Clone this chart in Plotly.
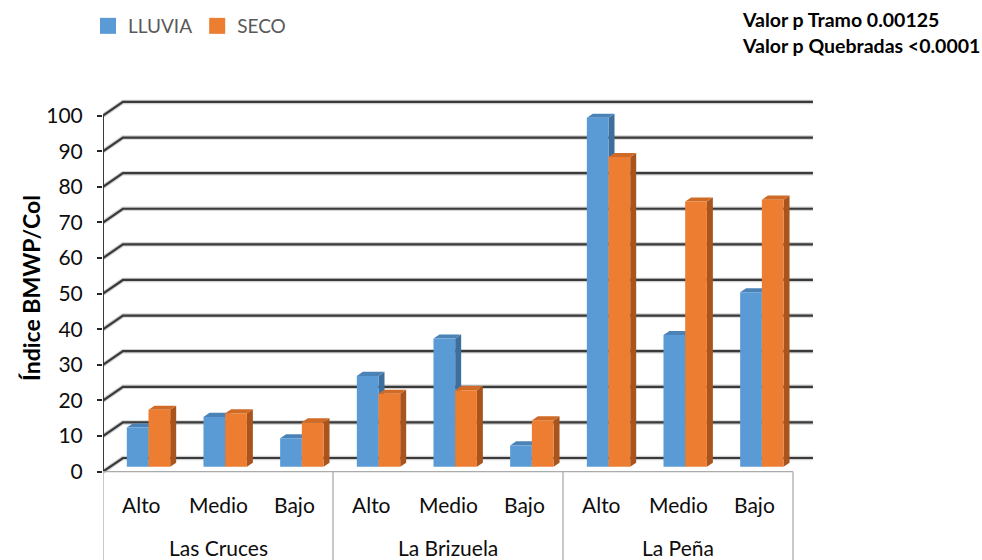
import plotly.graph_objects as go

# ---- data ----
sitios = ["Las Cruces", "La Brizuela", "La Peña"]
tramos = ["Alto", "Medio", "Bajo"]
lluvia = [11, 14, 8, 25.5, 36, 6, 98, 37, 49]
seco = [16, 15, 12.5, 20.5, 21.5, 13, 87, 74.5, 75]
y_ticks = list(range(0, 101, 10))

series_names = ["LLUVIA", "SECO"]
front_colors = ["#5B9BD5", "#ED7D31"]
side_colors = ["#3E6F9C", "#A9541D"]
top_colors = ["#4B83B9", "#CF6A27"]

FONT = "Lato, 'Open Sans', sans-serif"

# oblique projection of the depth axis, expressed in data units
DX, DY = 0.26, 3.85          # full depth of the floor / back wall
BAR_Z0, BAR_Z1 = 0.36, 0.66  # depth slab occupied by the columns
BAR_W = 0.283                # column width (one category slot = 1.0)

n_cat = len(sitios) * len(tramos)
x_max = 9.352
y_min, y_max = -24.8, 105.8


def polys_to_xy(polys):
    xs, ys = [], []
    for p in polys:
        for (a, b) in p + [p[0]]:
            xs.append(a)
            ys.append(b)
        xs.append(None)
        ys.append(None)
    return xs, ys


def column_faces(x_left, v):
    x0 = x_left + BAR_Z0 * DX
    y0 = BAR_Z0 * DY
    ddx = (BAR_Z1 - BAR_Z0) * DX
    ddy = (BAR_Z1 - BAR_Z0) * DY
    w = BAR_W
    front = [(x0, y0), (x0 + w, y0), (x0 + w, y0 + v), (x0, y0 + v)]
    side = [(x0 + w, y0), (x0 + w + ddx, y0 + ddy),
            (x0 + w + ddx, y0 + v + ddy), (x0 + w, y0 + v)]
    top = [(x0, y0 + v), (x0 + ddx, y0 + v + ddy),
           (x0 + w + ddx, y0 + v + ddy), (x0 + w, y0 + v)]
    return front, side, top


fig = go.Figure()

# back-wall gridlines with the short diagonal along the side wall
gx, gy = [], []
for t in y_ticks:
    gx += [0, DX, n_cat + DX, None]
    gy += [t, t + DY, t + DY, None]
fig.add_trace(go.Scatter(x=gx, y=gy, mode="lines",
                         line=dict(color="rgba(0,0,0,0.18)", width=4.5),
                         hoverinfo="skip", showlegend=False))
fig.add_trace(go.Scatter(x=gx, y=gy, mode="lines",
                         line=dict(color="#3a3a3a", width=2.2),
                         hoverinfo="skip", showlegend=False))

# front value axis line
fig.add_trace(go.Scatter(x=[0, 0], y=[0, y_ticks[-1]], mode="lines",
                         line=dict(color="#262626", width=1.8),
                         hoverinfo="skip", showlegend=False))

# category axis: floor edge and group separators
sx, sy = [0, n_cat, None], [0, 0, None]
for k in range(len(sitios) + 1):
    sx += [k * len(tramos), k * len(tramos), None]
    sy += [0, y_min, None]
fig.add_trace(go.Scatter(x=sx, y=sy, mode="lines",
                         line=dict(color="#ABABAB", width=1.3),
                         hoverinfo="skip", showlegend=False))

# columns: sides, tops, then fronts, series by series
for s, vals in enumerate([lluvia, seco]):
    fronts, sides, tops = [], [], []
    for i, v in enumerate(vals):
        x_left = i + 0.5 - BAR_W + s * BAR_W
        f, sd, tp = column_faces(x_left, v)
        fronts.append(f)
        sides.append(sd)
        tops.append(tp)
    for polys, col in [(sides, side_colors[s]), (tops, top_colors[s]),
                       (fronts, front_colors[s])]:
        px_, py_ = polys_to_xy(polys)
        fig.add_trace(go.Scatter(x=px_, y=py_, mode="lines", fill="toself",
                                 fillcolor=col, line=dict(width=0, color=col),
                                 hoverinfo="skip", showlegend=False))
    # legend entry
    fig.add_trace(go.Scatter(x=[None], y=[None], mode="markers",
                             marker=dict(symbol="square", size=16,
                                         color=front_colors[s]),
                             name=series_names[s], showlegend=True))

annotations = []
# level labels and site labels
for g, sitio in enumerate(sitios):
    for j, tramo in enumerate(tramos):
        annotations.append(dict(x=g * 3 + j + 0.5, y=-9.1, xref="x", yref="y",
                                text=tramo, showarrow=False,
                                font=dict(family=FONT, size=21, color="#0d0d0d")))
    annotations.append(dict(x=g * 3 + 1.5, y=-21.4, xref="x", yref="y",
                            text=sitio, showarrow=False,
                            font=dict(family=FONT, size=21, color="#0d0d0d")))

# value axis title
annotations.append(dict(x=-0.1004, y=51.6, xref="paper", yref="y",
                        xanchor="center", yanchor="middle",
                        text="<b>Índice BMWP/Col</b>", textangle=-90,
                        showarrow=False,
                        font=dict(family=FONT, size=23, color="#000000")))

# p-values
annotations.append(dict(x=(740 - 103) / 717, y=(560 - 20) / 465,
                        xref="paper", yref="paper", xanchor="left",
                        yanchor="middle", showarrow=False,
                        text="<b>Valor p Tramo 0.00125</b>",
                        font=dict(family=FONT, size=19.5, color="#000000")))
annotations.append(dict(x=(740 - 103) / 717, y=(560 - 45) / 465,
                        xref="paper", yref="paper", xanchor="left",
                        yanchor="middle", showarrow=False,
                        text="<b>Valor p Quebradas <0.0001</b>",
                        font=dict(family=FONT, size=19.5, color="#000000")))

fig.update_layout(
    width=982, height=560,
    margin=dict(l=103, r=162, t=95, b=0),
    paper_bgcolor="white", plot_bgcolor="white",
    showlegend=True,
    legend=dict(orientation="h", xref="container", yref="container",
                x=88 / 982, y=1 - 26 / 560, xanchor="left", yanchor="middle",
                font=dict(family=FONT, size=19, color="#595959"),
                bgcolor="rgba(0,0,0,0)"),
    annotations=annotations,
)
fig.update_xaxes(range=[0, x_max], showgrid=False, zeroline=False,
                 showticklabels=False, showline=False, ticks="")
fig.update_yaxes(range=[y_min, y_max], tickvals=y_ticks,
                 ticks="outside", ticklen=5, tickwidth=1.6,
                 tickcolor="#262626", ticklabelstandoff=10,
                 showgrid=False, zeroline=False, showline=False,
                 tickfont=dict(family=FONT, size=21, color="#0d0d0d"))

fig.write_html("out.html")
